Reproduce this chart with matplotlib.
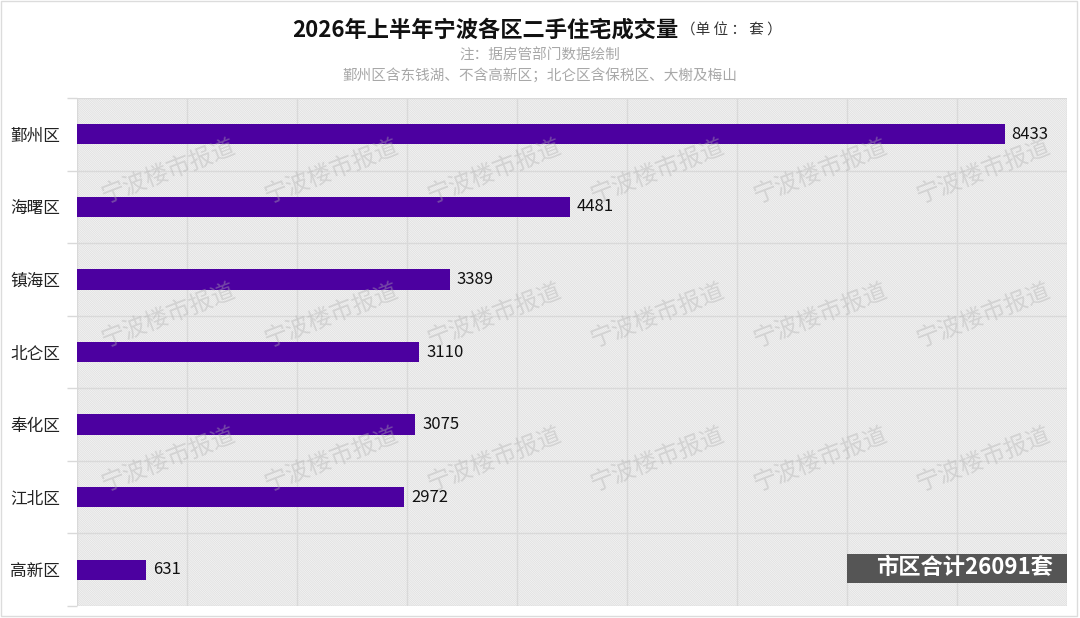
import matplotlib.pyplot as plt
from matplotlib.patches import Rectangle

plt.rcParams['font.family'] = ['Noto Sans CJK SC', 'DejaVu Sans']
plt.rcParams['hatch.linewidth'] = 0.6

# data
districts = ['鄞州区', '海曙区', '镇海区', '北仑区', '奉化区', '江北区', '高新区']
deals = [8433, 4481, 3389, 3110, 3075, 2972, 631]
x_ticks = list(range(0, 10000, 1000))

title = '2026年上半年宁波各区二手住宅成交量'
unit = '（单 位 ： 套 ）'
note1 = '注：据房管部门数据绘制'
note2 = '鄞州区含东钱湖、不含高新区；北仑区含保税区、大榭及梅山'
watermark = '宁波楼市报道'

W, H = 1080, 618
fig = plt.figure(figsize=(W / 100, H / 100), dpi=100)
ax = fig.add_axes([77 / W, 12 / H, 990 / W, 508 / H])

# hatched background
ax.add_patch(Rectangle((0, 0), 1, 1, transform=ax.transAxes, facecolor='white',
                       edgecolor='#dedede', lw=0, hatch='\\' * 18, zorder=0))

y = list(range(len(districts)))
bars = ax.barh(y, deals, height=0.28, color='#4C00A0', zorder=3)
ax.bar_label(bars, labels=[str(v) for v in deals], padding=5, fontsize=12, color='#111111')

ax.set_xlim(0, 9000)
ax.set_ylim(len(districts) - 0.5, -0.5)
ax.set_xticks(x_ticks)
ax.set_xticklabels([])
ax.set_yticks(y)
ax.set_yticklabels(districts, fontsize=12, color='#222222')
ax.set_yticks([i - 0.5 for i in range(len(districts) + 1)], minor=True)
ax.tick_params(axis='x', length=0)
ax.tick_params(axis='y', which='major', length=0, pad=12)
ax.tick_params(axis='y', which='minor', length=7, color='#d9d9d9', width=1)
ax.set_axisbelow(True)
ax.grid(axis='x', color='#d9d9d9', lw=1)
ax.grid(axis='y', which='minor', color='#d9d9d9', lw=1)
for s in ax.spines.values():
    s.set_visible(False)

# outer frame
fig.patches.append(Rectangle((1 / W, 2 / H), 1076 / W, 615 / H, transform=fig.transFigure,
                             fill=False, edgecolor='#dcdcdc', lw=1))

# titles
fig.text(678 / W, 1 - 30 / H, title, ha='right', va='center', fontsize=16, fontweight='bold', color='#111111')
fig.text(681 / W, 1 - 31 / H, unit, ha='left', va='center', fontsize=10.5, color='#333333')
fig.text(540 / W, 1 - 56 / H, note1, ha='center', va='center', fontsize=10.5, color='#a8a8a8')
fig.text(540 / W, 1 - 75 / H, note2, ha='center', va='center', fontsize=10.5, color='#a8a8a8')

# watermark
for cy in [172, 316, 460]:
    for cx in [168, 331, 494, 657, 820, 983]:
        fig.text(cx / W, 1 - cy / H, watermark, ha='center', va='center', rotation=21,
                 fontsize=17, color='#b0b0b0', alpha=0.4, zorder=5)

# total box
fig.patches.append(Rectangle((847 / W, 35 / H), 220 / W, 29 / H, transform=fig.transFigure,
                             facecolor='#555555', edgecolor='none', zorder=6))
fig.text(964 / W, 1 - 568 / H, '市区合计%d套' % sum(deals), ha='center', va='center',
         fontsize=16, fontweight='bold', color='white', zorder=7)

fig.savefig('out.png', dpi=100)
